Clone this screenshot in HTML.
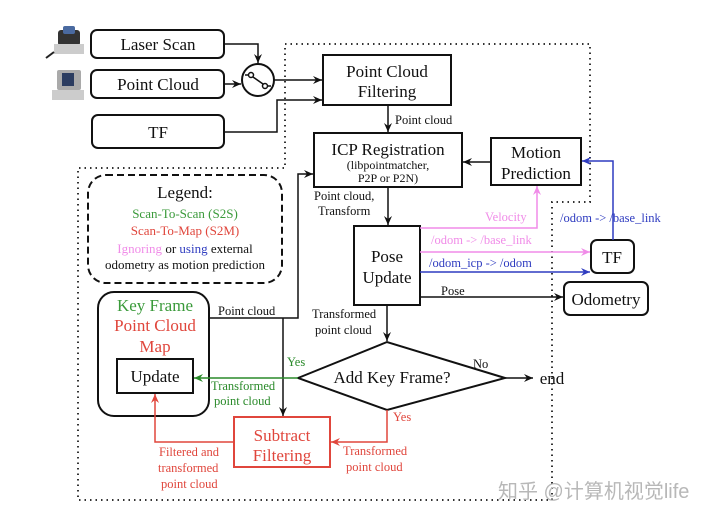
<!DOCTYPE html>
<html><head><meta charset="utf-8"><style>
html,body{margin:0;padding:0;background:#fff;width:720px;height:521px;overflow:hidden}
svg{display:block;font-family:"Liberation Serif","Noto Serif CJK SC",serif}
</style></head><body>
<svg width="720" height="521" viewBox="0 0 720 521" xmlns="http://www.w3.org/2000/svg">
<defs>
<marker id="ab" markerWidth="10" markerHeight="10" refX="9" refY="5" orient="auto" markerUnits="userSpaceOnUse"><path d="M0,1 L9,5 L0,9 L3,5 Z" fill="#111"/></marker>
<marker id="ar" markerWidth="10" markerHeight="10" refX="9" refY="5" orient="auto" markerUnits="userSpaceOnUse"><path d="M0,1 L9,5 L0,9 L3,5 Z" fill="#e0463c"/></marker>
<marker id="ag" markerWidth="10" markerHeight="10" refX="9" refY="5" orient="auto" markerUnits="userSpaceOnUse"><path d="M0,1 L9,5 L0,9 L3,5 Z" fill="#2a8a2a"/></marker>
<marker id="ap" markerWidth="10" markerHeight="10" refX="9" refY="5" orient="auto" markerUnits="userSpaceOnUse"><path d="M0,1 L9,5 L0,9 L3,5 Z" fill="#f08ce8"/></marker>
<marker id="au" markerWidth="10" markerHeight="10" refX="9" refY="5" orient="auto" markerUnits="userSpaceOnUse"><path d="M0,1 L9,5 L0,9 L3,5 Z" fill="#2f3cc0"/></marker>
</defs>
<g stroke="#333" stroke-width="2" stroke-dasharray="1.5 4" fill="none">
<path d="M285,44 H590 V202 H552 V500 H78 V168 H285 Z"/>
</g>
<rect x="58" y="30" width="22" height="16" rx="3" fill="#333"/>
<rect x="63" y="26" width="12" height="8" rx="2" fill="#4a6aa0"/>
<rect x="54" y="44" width="30" height="10" fill="#ccc"/>
<path d="M54,52 L46,58" stroke="#222" stroke-width="2"/>
<rect x="57" y="70" width="24" height="20" rx="2" fill="#aaa"/>
<rect x="62" y="73" width="12" height="13" fill="#2b3c60"/>
<rect x="52" y="90" width="32" height="10" fill="#ccc"/>
<g fill="#fff" stroke="#111" stroke-width="2">
<rect x="91" y="30" width="133" height="28" rx="6"/>
<rect x="91" y="70" width="133" height="28" rx="6"/>
<rect x="92" y="115" width="132" height="33" rx="6"/>
<circle cx="258" cy="80" r="16"/>
</g>
<g font-size="17" fill="#111" text-anchor="middle">
<text x="158" y="50">Laser Scan</text>
<text x="158" y="90">Point Cloud</text>
<text x="158" y="138">TF</text>
</g>
<g stroke="#111" stroke-width="1.5" fill="#fff"><circle cx="251" cy="75" r="2.5"/><circle cx="265" cy="86" r="2.5"/><path d="M253,77 L263,84"/><path d="M245,75 H249 M267,86 H271"/></g>
<g stroke="#111" stroke-width="1.5" fill="none">
<path d="M224,44 H258 V63" marker-end="url(#ab)"/>
<path d="M224,84 H241" marker-end="url(#ab)"/>
<path d="M274,80 H322" marker-end="url(#ab)"/>
<path d="M224,132 H277 V100 H322" marker-end="url(#ab)"/>
</g>
<g fill="#fff" stroke="#111" stroke-width="2">
<rect x="323" y="55" width="128" height="50"/>
<rect x="314" y="133" width="148" height="54"/>
<rect x="491" y="138" width="90" height="47"/>
<rect x="354" y="226" width="66" height="79"/>
<rect x="591" y="240" width="43" height="33" rx="6"/>
<rect x="564" y="282" width="84" height="33" rx="6"/>
<rect x="98" y="292" width="111" height="124" rx="16"/>
<rect x="117" y="359" width="76" height="34"/>
<path d="M298,378 L387,342 L505,378 L387,410 Z"/>
</g>
<rect x="234" y="417" width="96" height="50" fill="#fff" stroke="#e0463c" stroke-width="2"/>
<rect x="88" y="175" width="194" height="108" rx="18" fill="none" stroke="#111" stroke-width="2" stroke-dasharray="7 4"/>
<g font-size="17" fill="#111" text-anchor="middle">
<text x="387" y="77">Point Cloud</text>
<text x="387" y="97">Filtering</text>
<text x="388" y="155">ICP Registration</text>
<text x="536" y="158">Motion</text>
<text x="536" y="179">Prediction</text>
<text x="387" y="262">Pose</text>
<text x="387" y="283">Update</text>
<text x="612" y="263">TF</text>
<text x="606" y="305">Odometry</text>
<text x="155" y="382">Update</text>
<text x="392" y="383">Add Key Frame?</text>
<text x="552" y="384">end</text>
</g>
<g font-size="12" fill="#111" text-anchor="middle">
<text x="388" y="169">(libpointmatcher,</text>
<text x="388" y="182">P2P or P2N)</text>
</g>
<g font-size="17" text-anchor="middle">
<text x="155" y="311" fill="#3a9a3a">Key Frame</text>
<text x="155" y="331" fill="#e0463c">Point Cloud</text>
<text x="155" y="352" fill="#e0463c">Map</text>
<text x="282" y="441" fill="#e0463c">Subtract</text>
<text x="282" y="461" fill="#e0463c">Filtering</text>
<text x="185" y="198" fill="#111">Legend:</text>
</g>
<g font-size="13" text-anchor="middle">
<text x="185" y="218" fill="#3a9a3a">Scan-To-Scan (S2S)</text>
<text x="185" y="235" fill="#e0463c">Scan-To-Map (S2M)</text>
<text x="185" y="253" fill="#111"><tspan fill="#f08ce8">Ignoring</tspan> or <tspan fill="#2f3cc0">using</tspan> external</text>
<text x="185" y="269" fill="#111">odometry as motion prediction</text>
</g>
<g stroke="#111" stroke-width="1.5" fill="none">
<path d="M388,105 V132" marker-end="url(#ab)"/>
<path d="M491,162 H463" marker-end="url(#ab)"/>
<path d="M388,187 V225" marker-end="url(#ab)"/>
<path d="M420,297 H563" marker-end="url(#ab)"/>
<path d="M387,305 V341" marker-end="url(#ab)"/>
<path d="M505,378 H533" marker-end="url(#ab)"/>
<path d="M209,318 H298 V174 H313" marker-end="url(#ab)"/>
<path d="M283,318 V416" marker-end="url(#ab)"/>
</g>
<g stroke="#f08ce8" stroke-width="1.5" fill="none">
<path d="M420,228 H537 V186" marker-end="url(#ap)"/>
<path d="M420,252 H590" marker-end="url(#ap)"/>
</g>
<g stroke="#2f3cc0" stroke-width="1.5" fill="none">
<path d="M420,272 H590" marker-end="url(#au)"/>
<path d="M613,240 V161 H582" marker-end="url(#au)"/>
</g>
<path d="M298,378 H194" stroke="#2a8a2a" stroke-width="1.5" fill="none" marker-end="url(#ag)"/>
<g stroke="#e0463c" stroke-width="1.5" fill="none">
<path d="M387,410 V442 H331" marker-end="url(#ar)"/>
<path d="M234,442 H155 V394" marker-end="url(#ar)"/>
</g>
<g font-size="12.5" fill="#111">
<text x="395" y="124">Point cloud</text>
<text x="314" y="200">Point cloud,</text>
<text x="318" y="215">Transform</text>
<text x="441" y="295">Pose</text>
<text x="312" y="318">Transformed</text>
<text x="315" y="334">point cloud</text>
<text x="218" y="315">Point cloud</text>
<text x="473" y="368">No</text>
</g>
<g font-size="12.5">
<text x="485" y="221" fill="#f08ce8">Velocity</text>
<text x="431" y="244" fill="#f08ce8">/odom -&gt; /base_link</text>
<text x="429" y="267" fill="#2f3cc0">/odom_icp -&gt; /odom</text>
<text x="560" y="222" fill="#2f3cc0">/odom -&gt; /base_link</text>
<text x="287" y="366" fill="#2a8a2a">Yes</text>
<text x="211" y="390" fill="#2a8a2a">Transformed</text>
<text x="214" y="405" fill="#2a8a2a">point cloud</text>
<text x="393" y="421" fill="#e0463c">Yes</text>
<text x="343" y="455" fill="#e0463c">Transformed</text>
<text x="346" y="471" fill="#e0463c">point cloud</text>
<text x="159" y="456" fill="#e0463c">Filtered and</text>
<text x="158" y="472" fill="#e0463c">transformed</text>
<text x="161" y="488" fill="#e0463c">point cloud</text>
</g>
<text x="498" y="498" font-size="20" fill="#b8b8b8" font-family="'Liberation Sans','Noto Sans CJK SC',sans-serif">知乎 @计算机视觉life</text>
</svg>
</body></html>
